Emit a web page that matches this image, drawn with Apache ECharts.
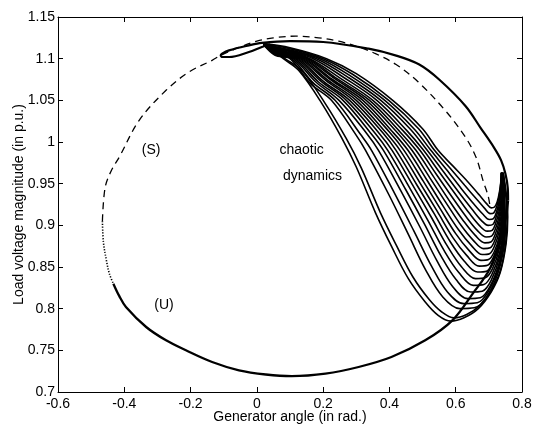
<!DOCTYPE html>
<html>
<head>
<meta charset="utf-8">
<script src="https://cdn.jsdelivr.net/npm/echarts@6/dist/echarts.min.js"></script>
<style>
html,body{margin:0;padding:0;background:#fff;}
#chart{width:533px;height:427px;}
</style>
</head>
<body>
<div id="chart"></div>
<script>
// Axis ranges / ticks
const xRange = [-0.6, 0.8];
const xStep = 0.2;
const yRange = [0.7, 1.15];
const yStep = 0.05;

// Dashed (S) curve
const sCurve = [[-0.466,0.905],[-0.458,0.945],[-0.44,0.965],[-0.415,0.982],[-0.355,1.026],[-0.274,1.062],[-0.205,1.084],[-0.135,1.098],[-0.109,1.104],[-0.05,1.114],[0.0,1.121],[0.05,1.125],[0.117,1.127],[0.186,1.125],[0.247,1.121],[0.307,1.114],[0.358,1.106],[0.42,1.093],[0.487,1.072],[0.568,1.038],[0.629,1.006],[0.662,0.981],[0.683,0.953],[0.698,0.935],[0.704,0.921]];

// (U) curve: sparse dotted start, then solid
const uDotted = [[-0.466,0.905],[-0.463,0.88],[-0.454,0.858],[-0.445,0.842],[-0.433,0.83]];
const uSolid = [[-0.433,0.83],[-0.415,0.815],[-0.395,0.802],[-0.334,0.778],[-0.274,0.762],[-0.214,0.75],[-0.135,0.736],[-0.054,0.726],[0.027,0.721],[0.105,0.719],[0.207,0.722],[0.307,0.73],[0.406,0.742],[0.508,0.762],[0.59,0.786],[0.653,0.819],[0.703,0.848],[0.737,0.885],[0.752,0.91],[0.758,0.93]];

// Return path (outer envelope) and the small loop near the top-left
const envelope = [[0.758,0.93],[0.757,0.945],[0.75,0.962],[0.737,0.978],[0.716,0.993],[0.675,1.017],[0.63,1.043],[0.55,1.075],[0.49,1.093],[0.418,1.104],[0.337,1.112],[0.2,1.12],[0.1,1.121],[0.015,1.119],[-0.024,1.116],[-0.084,1.11],[-0.105,1.106],[-0.109,1.104],[-0.104,1.102],[-0.084,1.102],[-0.024,1.108],[0.015,1.114],[0.04,1.117]];

// Chaotic strands (inner -> outer)
const strands = [
 [[0.02,1.118],[0.1,1.113],[0.21,1.1],[0.3,1.082],[0.41,1.05],[0.5,1.016],[0.547,0.99],[0.592,0.971],[0.637,0.952],[0.672,0.936],[0.693,0.926],[0.707,0.921],[0.717,0.922],[0.725,0.928],[0.732,0.94],[0.736,0.952],[0.738,0.963]],
 [[0.02,1.118],[0.1,1.112],[0.2,1.1],[0.29,1.081],[0.398,1.05],[0.488,1.016],[0.536,0.99],[0.582,0.969],[0.627,0.948],[0.664,0.931],[0.688,0.92],[0.704,0.914],[0.715,0.915],[0.724,0.923],[0.731,0.935],[0.736,0.95],[0.738,0.963]],
 [[0.02,1.117],[0.095,1.111],[0.19,1.1],[0.28,1.08],[0.386,1.05],[0.476,1.015],[0.525,0.99],[0.572,0.967],[0.617,0.944],[0.656,0.925],[0.683,0.913],[0.701,0.907],[0.714,0.908],[0.723,0.916],[0.731,0.929],[0.736,0.946],[0.738,0.963]],
 [[0.02,1.117],[0.09,1.111],[0.18,1.1],[0.27,1.079],[0.374,1.05],[0.464,1.015],[0.514,0.99],[0.562,0.965],[0.607,0.941],[0.648,0.92],[0.677,0.906],[0.698,0.9],[0.712,0.901],[0.722,0.91],[0.731,0.923],[0.737,0.942],[0.738,0.963]],
 [[0.02,1.117],[0.09,1.11],[0.17,1.1],[0.26,1.078],[0.362,1.05],[0.452,1.014],[0.503,0.99],[0.552,0.963],[0.598,0.938],[0.64,0.915],[0.671,0.9],[0.695,0.893],[0.71,0.894],[0.721,0.903],[0.731,0.917],[0.738,0.938],[0.738,0.963]],
 [[0.02,1.117],[0.085,1.11],[0.16,1.1],[0.25,1.077],[0.35,1.05],[0.44,1.014],[0.492,0.99],[0.542,0.961],[0.589,0.934],[0.632,0.91],[0.665,0.894],[0.692,0.886],[0.708,0.887],[0.72,0.896],[0.731,0.911],[0.739,0.934],[0.739,0.963]],
 [[0.02,1.117],[0.085,1.109],[0.155,1.1],[0.242,1.076],[0.34,1.05],[0.43,1.013],[0.48,0.99],[0.532,0.959],[0.58,0.93],[0.624,0.905],[0.659,0.888],[0.688,0.879],[0.706,0.88],[0.719,0.889],[0.731,0.905],[0.74,0.93],[0.739,0.963]],
 [[0.02,1.117],[0.08,1.109],[0.15,1.1],[0.235,1.076],[0.33,1.05],[0.42,1.013],[0.468,0.99],[0.522,0.957],[0.571,0.927],[0.616,0.9],[0.653,0.882],[0.684,0.872],[0.704,0.873],[0.718,0.882],[0.731,0.899],[0.741,0.926],[0.739,0.963]],
 [[0.02,1.117],[0.08,1.108],[0.145,1.1],[0.228,1.075],[0.32,1.05],[0.41,1.012],[0.456,0.99],[0.512,0.955],[0.562,0.923],[0.608,0.895],[0.647,0.876],[0.68,0.865],[0.702,0.866],[0.717,0.875],[0.731,0.893],[0.742,0.923],[0.74,0.963]],
 [[0.02,1.117],[0.075,1.108],[0.14,1.1],[0.222,1.075],[0.31,1.05],[0.4,1.012],[0.444,0.99],[0.502,0.953],[0.553,0.92],[0.6,0.89],[0.64,0.87],[0.676,0.858],[0.699,0.859],[0.716,0.868],[0.732,0.888],[0.742,0.92],[0.74,0.963]],
 [[0.02,1.117],[0.075,1.107],[0.135,1.1],[0.215,1.074],[0.3,1.05],[0.39,1.011],[0.432,0.99],[0.492,0.951],[0.544,0.917],[0.592,0.885],[0.633,0.864],[0.671,0.851],[0.696,0.852],[0.714,0.862],[0.732,0.883],[0.743,0.917],[0.74,0.963]],
 [[0.02,1.117],[0.07,1.107],[0.13,1.1],[0.208,1.074],[0.29,1.05],[0.38,1.011],[0.42,0.99],[0.482,0.949],[0.535,0.914],[0.584,0.88],[0.626,0.857],[0.666,0.844],[0.693,0.845],[0.713,0.855],[0.732,0.878],[0.744,0.914],[0.741,0.963]],
 [[0.02,1.117],[0.07,1.106],[0.125,1.1],[0.2,1.073],[0.28,1.05],[0.37,1.01],[0.408,0.99],[0.472,0.947],[0.526,0.91],[0.575,0.875],[0.618,0.85],[0.66,0.836],[0.689,0.837],[0.711,0.848],[0.732,0.873],[0.745,0.911],[0.741,0.963]],
 [[0.02,1.117],[0.065,1.106],[0.12,1.1],[0.193,1.073],[0.27,1.05],[0.358,1.01],[0.395,0.99],[0.461,0.945],[0.516,0.906],[0.566,0.869],[0.61,0.843],[0.653,0.828],[0.685,0.829],[0.709,0.841],[0.733,0.868],[0.746,0.908],[0.742,0.963]],
 [[0.02,1.117],[0.065,1.105],[0.115,1.1],[0.186,1.072],[0.26,1.05],[0.345,1.01],[0.382,0.99],[0.449,0.943],[0.505,0.902],[0.556,0.863],[0.601,0.835],[0.645,0.82],[0.68,0.821],[0.707,0.834],[0.733,0.863],[0.747,0.905],[0.742,0.963]],
 [[0.02,1.117],[0.06,1.105],[0.11,1.1],[0.178,1.072],[0.248,1.05],[0.332,1.01],[0.367,0.99],[0.435,0.941],[0.492,0.898],[0.544,0.857],[0.59,0.827],[0.636,0.812],[0.674,0.813],[0.704,0.827],[0.733,0.858],[0.748,0.902],[0.742,0.963]],
 [[0.02,1.117],[0.06,1.104],[0.105,1.1],[0.17,1.071],[0.236,1.05],[0.315,1.008],[0.346,0.99],[0.416,0.938],[0.474,0.893],[0.527,0.851],[0.575,0.82],[0.624,0.806],[0.665,0.807],[0.699,0.821],[0.733,0.854],[0.749,0.899],[0.743,0.963]],
 [[0.02,1.117],[0.055,1.104],[0.1,1.1],[0.162,1.07],[0.225,1.05],[0.3,1.008],[0.328,0.99],[0.398,0.937],[0.456,0.89],[0.51,0.846],[0.561,0.814],[0.612,0.8],[0.656,0.801],[0.695,0.815],[0.733,0.85],[0.75,0.897],[0.743,0.963]],
 [[0.02,1.117],[0.05,1.11],[0.085,1.1],[0.135,1.086],[0.205,1.047],[0.27,1.004],[0.315,0.969],[0.373,0.915],[0.421,0.876],[0.471,0.838],[0.52,0.811],[0.558,0.796],[0.595,0.789],[0.633,0.793],[0.673,0.804],[0.709,0.823],[0.735,0.846],[0.751,0.88],[0.755,0.911],[0.75,0.94],[0.743,0.963]],
 [[0.02,1.117],[0.05,1.11],[0.08,1.1],[0.126,1.086],[0.195,1.047],[0.256,1.005],[0.3,0.97],[0.358,0.915],[0.406,0.875],[0.457,0.836],[0.508,0.808],[0.547,0.792],[0.585,0.785],[0.625,0.789],[0.668,0.8],[0.707,0.82],[0.734,0.843],[0.752,0.878],[0.757,0.91],[0.752,0.94],[0.743,0.963]]
];

// Text annotations (data coordinates)
const annotationText = ['(S)', '(U)', 'chaotic', 'dynamics'];
const annotationAt = [[-0.319,0.99],[-0.28,0.804],[0.135,0.99],[0.168,0.959]];

const xName = 'Generator angle (in rad.)';
const yName = 'Load voltage magnitude (in p.u.)';

const FONT = 'Liberation Sans, Arial, sans-serif';
const BLACK = '#000';

function lineSeries(data, width, type, smooth) {
  return {
    type: 'line', data: data, showSymbol: false, symbol: 'none', smooth: smooth,
    silent: true, animation: false, clip: true,
    lineStyle: { color: BLACK, width: width, type: type, opacity: 1 }
  };
}

const series = [];
strands.forEach(s => series.push(lineSeries(s, 1.6, 'solid', 0.35)));
series.push(lineSeries(envelope, 2.2, 'solid', 0.35));
series.push(lineSeries(uSolid, 2.3, 'solid', 0.35));
series.push(lineSeries(uDotted, 1.6, [1.2, 1.6], 0.35));
series.push(lineSeries(sCurve, 1.3, [7, 5], 0.35));
series.push({
  type: 'scatter', symbolSize: 1, silent: true, animation: false,
  itemStyle: { color: 'rgba(0,0,0,0)', opacity: 1 },
  data: annotationText.map((t, i) => ({ name: t, value: annotationAt[i] })),
  label: { show: true, position: 'inside', formatter: p => p.name, opacity: 1,
           color: '#000', fontSize: 14, fontFamily: FONT, textBorderWidth: 0 }
});

function axisCommon(extra) {
  return Object.assign({
    type: 'value',
    axisLine: { show: true, onZero: false, lineStyle: { color: BLACK, width: 1 } },
    axisTick: { show: true, inside: true, length: 5, lineStyle: { color: BLACK, width: 1 } },
    splitLine: { show: false },
    minorTick: { show: false }
  }, extra);
}

const chart = echarts.init(document.getElementById('chart'), null, { renderer: 'canvas' });
chart.setOption({
  animation: false,
  backgroundColor: '#fff',
  grid: { left: 58, right: 11, top: 17, bottom: 35, containLabel: false, outerBoundsMode: 'none' },
  xAxis: [
    axisCommon({ min: xRange[0], max: xRange[1], interval: xStep, position: 'bottom',
      name: xName, nameLocation: 'middle', nameGap: 25, nameMoveOverlap: false,
      nameTextStyle: { color: BLACK, fontSize: 14, fontFamily: FONT, verticalAlign: 'middle' },
      axisLabel: { color: BLACK, fontSize: 14, fontFamily: FONT, margin: 5 } }),
    axisCommon({ min: xRange[0], max: xRange[1], interval: xStep, position: 'top',
      axisLabel: { show: false } })
  ],
  yAxis: [
    axisCommon({ min: yRange[0], max: yRange[1], interval: yStep, position: 'left',
      name: yName, nameLocation: 'middle', nameGap: 39, nameRotate: 90, nameMoveOverlap: false,
      nameTextStyle: { color: BLACK, fontSize: 14, fontFamily: FONT, verticalAlign: 'middle' },
      axisLabel: { color: BLACK, fontSize: 14, fontFamily: FONT, margin: 3 } }),
    axisCommon({ min: yRange[0], max: yRange[1], interval: yStep, position: 'right',
      axisLabel: { show: false } })
  ],
  series: series
});
</script>
</body>
</html>
